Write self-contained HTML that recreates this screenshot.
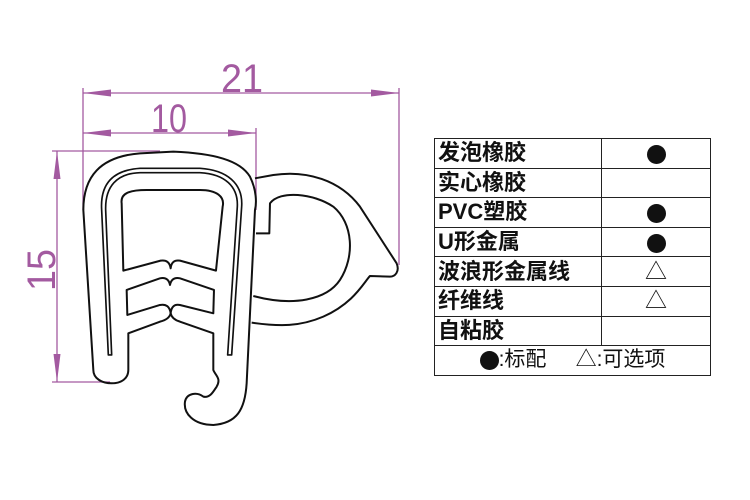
<!DOCTYPE html>
<html><head><meta charset="utf-8"><style>
body{margin:0;width:750px;height:500px;background:#fff;overflow:hidden}
svg{position:absolute;left:0;top:0}
table{position:absolute;left:434px;top:138px;border-collapse:collapse;font-family:"Liberation Sans","Noto Sans CJK SC",sans-serif;font-size:22px;font-weight:bold;color:#111}
td{border:1.5px solid #222;height:28.6px;padding:0 0 0 3px;line-height:28px;white-space:nowrap}
td.c{text-align:center;padding:0;width:108px}
td.l{width:163px}
.d{display:inline-block;width:19px;height:19px;border-radius:50%;background:#111;vertical-align:middle}
.t{font-weight:normal}
</style></head><body>
<svg width="750" height="500" viewBox="0 0 750 500">
<g stroke="#a35aa0" stroke-width="1.3" fill="#a35aa0">
<line x1="83" y1="88" x2="83" y2="210"/>
<line x1="399" y1="88" x2="399" y2="265"/>
<line x1="256" y1="128" x2="256" y2="210"/>
<line x1="83" y1="93" x2="399" y2="93"/>
<line x1="83" y1="133" x2="256" y2="133"/>
<line x1="52" y1="151" x2="160" y2="151"/>
<line x1="52" y1="382" x2="110" y2="382"/>
<line x1="57" y1="151" x2="57" y2="382"/>
<polygon stroke="none" points="83,93 111,89.5 111,96.5"/>
<polygon stroke="none" points="399,93 371,89.5 371,96.5"/>
<polygon stroke="none" points="83,133 111,129.5 111,136.5"/>
<polygon stroke="none" points="256,133 228,129.5 228,136.5"/>
<polygon stroke="none" points="57,151 53.5,179 60.5,179"/>
<polygon stroke="none" points="57,382 53.5,354 60.5,354"/>
</g>
<g fill="#a35aa0" font-family="Liberation Sans Narrow,Liberation Sans,sans-serif" font-size="40">
<text x="221" y="92" textLength="42" lengthAdjust="spacingAndGlyphs">21</text>
<text x="151" y="132" textLength="36" lengthAdjust="spacingAndGlyphs">10</text>
<text transform="translate(55,291) rotate(-90)" textLength="42" lengthAdjust="spacingAndGlyphs">15</text>
</g>
<g transform="translate(40,50) scale(0.3333)" fill="none" stroke="#111" stroke-width="6" stroke-linejoin="round">
<path d="M130,480 C130,380 180,320 300,310 L400,305 C520,310 600,330 630,380 C650,420 650,460 645,480 L620,1000 C615,1080 590,1120 520,1125 C460,1125 430,1090 435,1055 C440,1030 470,1025 490,1040 C510,1045 520,1025 530,1010 C545,985 525,975 520,960 L520,850 L420,815 Q396,808 392,790 Q388,808 360,815 L265,850 L265,960 C265,985 245,1000 215,1000 C185,1000 160,985 160,960 Z"/>
<path d="M245,460 C240,425 280,420 320,420 L480,420 C530,420 555,440 548,470 L528,662 L420,632 Q395,628 392,655 Q388,628 362,632 L250,662 Z"/>
<path d="M260,720 L360,685 Q385,680 390,705 Q395,680 420,685 L522,720 L520,790 L420,765 Q395,760 392,790 Q388,760 360,765 L262,795 Z"/>
<path d="M205,915 L185,480 C180,400 220,360 300,355 L480,355 C560,360 610,400 605,470 L575,915 L563,915 L592,470 C595,410 555,372 480,368 L300,368 C230,370 195,410 197,480 L215,915 Z" stroke-width="5"/>
<path d="M645,385 L700,375 C800,360 900,390 960,470 L1070,640 C1080,665 1065,680 1050,680 L990,678 C970,700 940,760 850,800 C780,830 720,830 635,818"/>
<path d="M648,550 L688,550 L690,460 C720,420 820,430 880,470 C940,520 945,620 900,690 C860,750 760,770 640,738"/>
</g>
</svg>
<table>
<tr><td class="l">发泡橡胶</td><td class="c"><span class="d"></span></td></tr>
<tr><td class="l">实心橡胶</td><td class="c"></td></tr>
<tr><td class="l">PVC塑胶</td><td class="c"><span class="d"></span></td></tr>
<tr><td class="l">U形金属</td><td class="c"><span class="d"></span></td></tr>
<tr><td class="l">波浪形金属线</td><td class="c t">△</td></tr>
<tr><td class="l">纤维线</td><td class="c t">△</td></tr>
<tr><td class="l">自粘胶</td><td class="c"></td></tr>
<tr><td colspan="2" class="t" style="text-align:center;padding:0;font-size:21px"><span class="d"></span>:标配 &nbsp;&nbsp;&nbsp;&nbsp;△:可选项</td></tr>
</table>
</body></html>
